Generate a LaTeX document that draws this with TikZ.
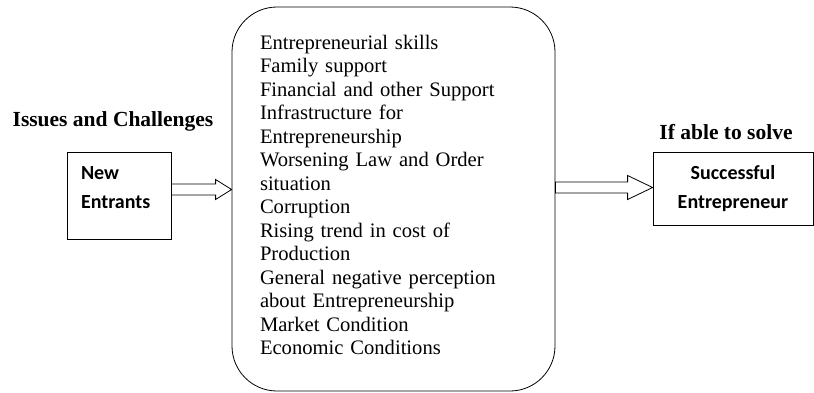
\documentclass[tikz,border=0pt]{standalone}
\usepackage{fontspec}
\setmainfont{Liberation Serif}
\newfontfamily\calibri{Carlito}
\usetikzlibrary{calc,
                positioning}
\tikzset{
        base/.style={draw, line width=0.8pt},
        entry/.style={base, rectangle, font=\calibri\bfseries\fontsize{20}{29}\selectfont},
        issuebox/.style={base, rounded corners=45pt, align=left,
                         font=\fontsize{20.6}{23.5}\selectfont},
        heading/.style={font=\bfseries\fontsize{21.5}{24}\selectfont},
        blockarrow/.style 2 args={line width=0.8pt, to path={
              let \p1=(\tikztostart), \p2=(\tikztotarget) in
              (\x1,\y1+5.5) -- (\x2-#1,\y1+5.5) -- (\x2-#1,\y1+#2) -- (\x2,\y1)
              -- (\x2-#1,\y1-#2) -- (\x2-#1,\y1-5.5) -- (\x1,\y1-5.5) -- cycle}},
 }
\begin{document}
\begin{tikzpicture}[x=1pt, y=-1pt]
    \useasboundingbox (0,0) rectangle (814,392);

    \node[issuebox, minimum width=323pt, minimum height=384pt,
          text width=267pt, inner xsep=28pt] (chal) at (393.5,199)
          {Entrepreneurial skills\\
           Family support\\
           Financial and other Support\\
           Infrastructure for\\
           Entrepreneurship\\
           Worsening Law and Order\\
           situation\\
           Corruption\\
           Rising trend in cost of\\
           Production\\
           General negative perception\\
           about Entrepreneurship\\
           Market Condition\\
           Economic Conditions\\[-15pt]\mbox{}};

    \node[entry, minimum width=104pt, minimum height=87pt, text width=76pt,
          inner xsep=14pt, align=left] (new) at (119,195.5) {New\\Entrants\\[-13pt]\mbox{}};
    \node[heading, above=17pt of new, xshift=-6pt] (issues) {Issues and Challenges};

    \node[entry, minimum width=160pt, minimum height=73pt,
          align=center] (succ) at (733,188.5) {Successful\\Entrepreneur};
    \node[heading, above=8pt of succ, xshift=-7pt] (solve) {If able to solve};

    \draw[blockarrow={16}{10}] ([yshift=6pt]new.east) to ([yshift=6pt]new.east -| chal.west);
    \draw[blockarrow={25}{12}] ([yshift=1pt]succ.west -| chal.east) to ([yshift=1pt]succ.west);
\end{tikzpicture}
\end{document}
